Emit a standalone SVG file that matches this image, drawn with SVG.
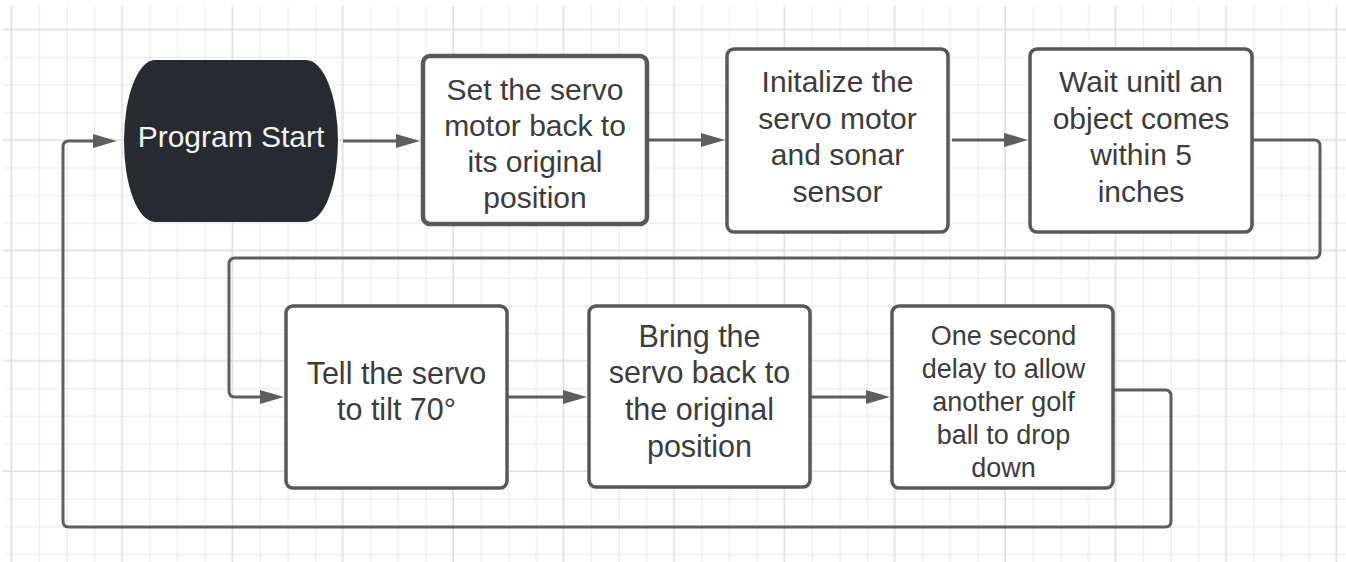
<svg xmlns="http://www.w3.org/2000/svg" width="1346" height="562" viewBox="0 0 1346 562">
<style>
.box{fill:#ffffff;stroke:#585858;stroke-width:3.5}
.t{font-family:"Liberation Sans",Arial,sans-serif;font-size:30px;fill:#3c3c3c;text-anchor:middle}
.m{font-size:30.5px}
.s{font-size:27px}
.con{fill:none;stroke:#5e5e5e;stroke-width:3;marker-end:url(#arr)}
</style>
<defs>
<marker id="arr" viewBox="0 0 24 14" refX="14" refY="7" markerWidth="24" markerHeight="14" markerUnits="userSpaceOnUse" orient="auto">
<path d="M0,0 L24,7 L0,14 Z" fill="#5e5e5e"/>
</marker>
<pattern id="grid" patternUnits="userSpaceOnUse" x="10.3" y="28.3" width="110.4" height="110.4">
<rect x="28.6" y="0" width="1.3" height="110.4" fill="#ececec"/>
<rect x="56.2" y="0" width="1.3" height="110.4" fill="#ececec"/>
<rect x="83.8" y="0" width="1.3" height="110.4" fill="#ececec"/>
<rect x="0" y="28.6" width="110.4" height="1.3" fill="#ececec"/>
<rect x="0" y="56.2" width="110.4" height="1.3" fill="#ececec"/>
<rect x="0" y="83.8" width="110.4" height="1.3" fill="#ececec"/>
<rect x="0.5" y="0" width="1.6" height="110.4" fill="#dedede"/>
<rect x="0" y="0.5" width="110.4" height="1.6" fill="#dedede"/>
</pattern>
</defs>
<rect x="0" y="0" width="1346" height="562" fill="#ffffff"/>
<rect x="3" y="6" width="1343" height="556" fill="url(#grid)"/>

<g id="connectors">
<path class="con" d="M343,141 H410"/>
<path class="con" d="M649,140 H715"/>
<path class="con" d="M952,140 H1018"/>
<path class="con" d="M1252,140 H1314 Q1320,140 1320,146 V252 Q1320,258 1314,258 H235 Q229,258 229,264 V391 Q229,397 235,397 H274"/>
<path class="con" d="M507,397 H577"/>
<path class="con" d="M810,397 H880"/>
<path class="con" d="M1113,390 H1165 Q1171,390 1171,396 V521 Q1171,527 1165,527 H69 Q63,527 63,521 V147 Q63,141 69,141 H107"/>
</g>

<g id="start">
<path d="M155,60 H306 A32,81 0 0 1 306,222 H155 A31,81 0 0 1 155,60 Z" fill="#272a30"/>
<text class="t" x="231" y="147" style="fill:#f4f4f4">Program Start</text>
</g>

<g id="set-servo">
<rect class="box" x="423" y="56" width="224" height="168" rx="7" style="stroke-width:4.5"/>
<text class="t" x="535" y="100">Set the servo</text>
<text class="t" x="535" y="136">motor back to</text>
<text class="t" x="535" y="172">its original</text>
<text class="t" x="535" y="208">position</text>
</g>

<g id="initialize">
<rect class="box" x="727" y="49" width="221" height="183" rx="7"/>
<text class="t" x="837.5" y="92">Initalize the</text>
<text class="t" x="837.5" y="128.7">servo motor</text>
<text class="t" x="837.5" y="165.3">and sonar</text>
<text class="t" x="837.5" y="202">sensor</text>
</g>

<g id="wait">
<rect class="box" x="1030" y="49" width="222" height="183" rx="7"/>
<text class="t" x="1141" y="92">Wait unitl an</text>
<text class="t" x="1141" y="128.7">object comes</text>
<text class="t" x="1141" y="165.3">within 5</text>
<text class="t" x="1141" y="202">inches</text>
</g>

<g id="tilt">
<rect class="box" x="286" y="306" width="221" height="182" rx="7"/>
<text class="t m" x="396.5" y="383.5">Tell the servo</text>
<text class="t m" x="396.5" y="420">to tilt 70°</text>
</g>

<g id="bring-back">
<rect class="box" x="589" y="306" width="221" height="181" rx="7"/>
<text class="t m" x="699.5" y="346.5">Bring the</text>
<text class="t m" x="699.5" y="383.3">servo back to</text>
<text class="t m" x="699.5" y="420">the original</text>
<text class="t m" x="699.5" y="456.7">position</text>
</g>

<g id="delay">
<rect class="box" x="892" y="306" width="221" height="182" rx="7"/>
<text class="t s" x="1003.5" y="345">One second</text>
<text class="t s" x="1003.5" y="378">delay to allow</text>
<text class="t s" x="1003.5" y="410.5">another golf</text>
<text class="t s" x="1003.5" y="443.5">ball to drop</text>
<text class="t s" x="1003.5" y="476.5">down</text>
</g>
</svg>
